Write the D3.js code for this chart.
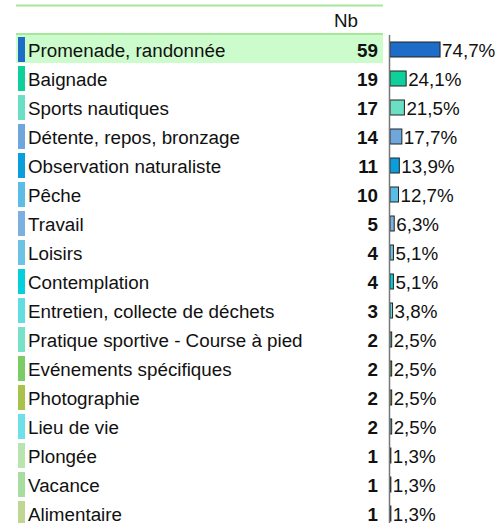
<!DOCTYPE html>
<html>
<head>
<meta charset="utf-8">
<script src="https://cdn.jsdelivr.net/npm/d3@7"></script>
<style>
  body { margin: 0; background: #fff; }
  svg text { font-family: "Liberation Sans", Arial, sans-serif; }
</style>
</head>
<body>
<div id="chart"></div>
<script>
var categories = ["Promenade, randonnée", "Baignade", "Sports nautiques", "Détente, repos, bronzage",
    "Observation naturaliste", "Pêche", "Travail", "Loisirs", "Contemplation",
    "Entretien, collecte de déchets", "Pratique sportive - Course à pied", "Evénements spécifiques",
    "Photographie", "Lieu de vie", "Plongée", "Vacance", "Alimentaire"];
var counts = [59, 19, 17, 14, 11, 10, 5, 4, 4, 3, 2, 2, 2, 2, 1, 1, 1];
var percents = [74.7, 24.1, 21.5, 17.7, 13.9, 12.7, 6.3, 5.1, 5.1, 3.8, 2.5, 2.5, 2.5, 2.5, 1.3, 1.3, 1.3];
var colors = ["#1c6cc8", "#0fd09a", "#6adfc3", "#6fa6dc", "#0a9fdc", "#5bbde6", "#7cb0e0", "#6dc3e4",
    "#06cfdc", "#62dde2", "#78e2c8", "#7ccc66", "#a8c24a", "#6ee0e8", "#b8e4b0", "#a8dda0", "#c2d694"];

var width = 497, height = 523;
var fs = 18.8;
var svg = d3.select("#chart").append("svg")
    .attr("width", width)
    .attr("height", height);

var top0 = 35, rowH = 29;
var y = d3.scaleBand()
    .domain(categories)
    .range([top0, top0 + rowH * categories.length]);

var x = d3.scaleLinear()
    .domain([0, 100])
    .range([390, 457]);

// header lines
svg.append("line").attr("x1", 16).attr("x2", 383).attr("y1", 5.5).attr("y2", 5.5)
    .attr("stroke", "#a6e89a").attr("stroke-width", 2);
svg.append("text").attr("x", 346).attr("y", 27).attr("text-anchor", "middle")
    .attr("font-size", fs).attr("fill", "#111").text("Nb");
svg.append("line").attr("x1", 16).attr("x2", 383).attr("y1", 34).attr("y2", 34)
    .attr("stroke", "#a6e89a").attr("stroke-width", 2);

// highlight first row
svg.append("rect")
    .attr("x", 16).attr("y", y(categories[0]))
    .attr("width", 367).attr("height", rowH - 1)
    .attr("fill", "#ccfccc");

var rows = svg.selectAll("g.row")
    .data(categories)
    .enter().append("g")
    .attr("class", "row");

rows.append("rect")
    .attr("x", 18)
    .attr("y", function(d) { return y(d) + 2; })
    .attr("width", 7)
    .attr("height", rowH - 4)
    .attr("fill", function(d, i) { return colors[i]; });

rows.append("text")
    .attr("x", 28)
    .attr("y", function(d) { return y(d) + rowH / 2 + 7; })
    .attr("font-size", fs)
    .attr("fill", "#111")
    .text(function(d) { return d; });

rows.append("text")
    .attr("x", 378)
    .attr("y", function(d) { return y(d) + rowH / 2 + 7; })
    .attr("text-anchor", "end")
    .attr("font-size", fs)
    .attr("font-weight", "bold")
    .attr("fill", "#111")
    .text(function(d, i) { return counts[i]; });

rows.append("rect")
    .attr("x", x(0))
    .attr("y", function(d) { return y(d) + 7; })
    .attr("width", function(d, i) { return x(percents[i]) - x(0); })
    .attr("height", 15)
    .attr("fill", function(d, i) { return colors[i]; })
    .attr("stroke", "#222")
    .attr("stroke-width", 1);

rows.append("text")
    .attr("x", function(d, i) { return x(percents[i]) + 2; })
    .attr("y", function(d) { return y(d) + rowH / 2 + 7; })
    .attr("font-size", fs)
    .attr("fill", "#111")
    .text(function(d, i) { return percents[i].toFixed(1).replace(".", ",") + "%"; });

// axis line
svg.append("line")
    .attr("x1", 389.5).attr("x2", 389.5)
    .attr("y1", 35).attr("y2", height)
    .attr("stroke", "#777").attr("stroke-width", 1.5);
</script>
</body>
</html>
